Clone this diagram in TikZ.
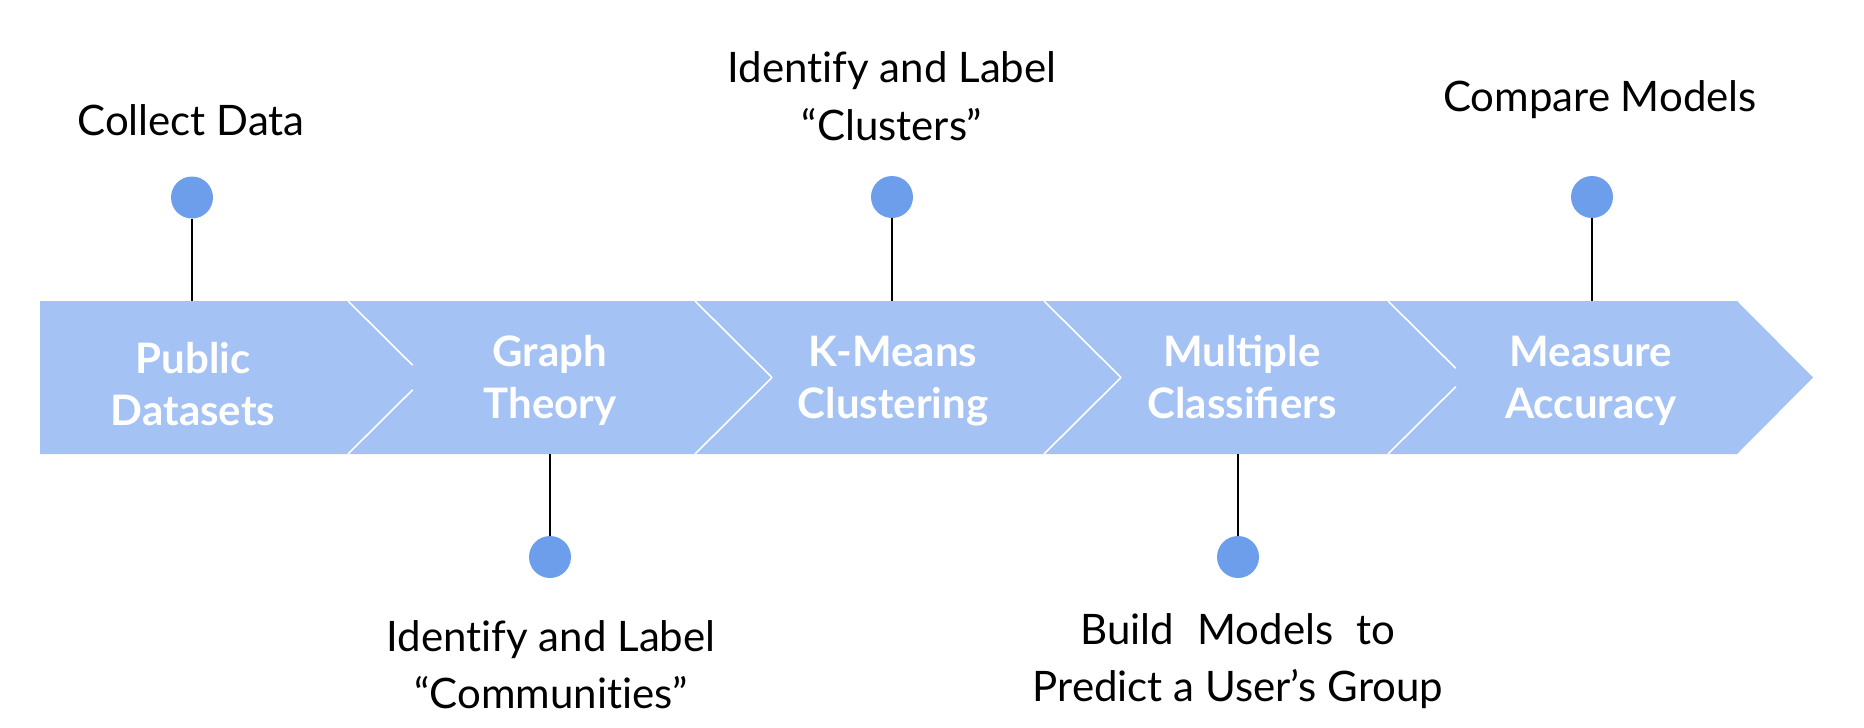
\documentclass[tikz,border=0pt]{standalone}
\usepackage{fontspec}
\setmainfont{Lato}
\usepackage{tikz}
\definecolor{barblue}{HTML}{A4C2F4}
\definecolor{dotblue}{HTML}{6D9EEB}
\tikzstyle{dot}=[circle,fill=dotblue,minimum size=21pt,inner sep=0pt]
\tikzstyle{note}=[align=center,inner sep=0pt,anchor=base,font=\fontsize{21}{28.5}\selectfont\addfontfeatures{Ligatures=NoCommon}]
\tikzstyle{stage}=[align=center,inner sep=0pt,anchor=base,text=white,font=\fontsize{21}{26}\selectfont\bfseries]
\tikzstyle{stem}=[line width=1pt,black]

\begin{document}
\begin{tikzpicture}[x=0.5pt,y=-0.5pt]
          \useasboundingbox (0,0) rectangle (1864,728);
          % the arrow bar
          \fill[barblue] (40,301) -- (1737,301) -- (1813,377.5) -- (1737,454) -- (40,454) -- cycle;
          \foreach \x/\g in {348/0.84,695/1,1044/1,1388/0.88}{
            \draw[white,line width=0.8pt] (\x,301) -- ++({77*\g},{76.5*\g});
            \draw[white,line width=0.8pt] (\x,454) -- ++({77*\g},{-76.5*\g});
          }
          % base = last line
          \node[stage] (p1) at (193,425) {Public\\Datasets};
          \node[stage] (p2) at (550,418.3) {Graph\\Theory};
          \node[stage] (p3) at (893,418.3) {K-Means\\Clustering};
          \node[stage] (p4) at (1242,418.3) {Multiple\\Classifiers};
          \node[stage] (p5) at (1591,418.3) {Measure\\Accuracy};
          % dots and stems
          \node[dot] (1) at (192,197.5) {};
          \node[dot] (2) at (550,557) {};
          \node[dot] (3) at (892,197) {};
          \node[dot] (4) at (1238,557) {};
          \node[dot] (5) at (1592,197) {};
          \coordinate (s1) at (192,301);
          \coordinate (s2) at (550,454);
          \coordinate (s3) at (892,301);
          \coordinate (s4) at (1238,454);
          \coordinate (s5) at (1592,301);
          \foreach \i in {1,...,5}
            \draw[stem] (\i) -- (s\i);
          % notes
          \node[note] (n1) at (191,135) {Collect Data};
          \node[note] (n2) at (551,708) {Identify and Label\\“Communities”};
          \node[note] (n3) at (892,140) {Identify and Label\\“Clusters”};
          \node[note] (n4) at (1238,701.7) {Build\hspace{0.3em} Models\hspace{0.3em} to\\Predict a User’s Group};
          \node[note] (n5) at (1600,111.7) {Compare Models};
        \end{tikzpicture}
\end{document}
